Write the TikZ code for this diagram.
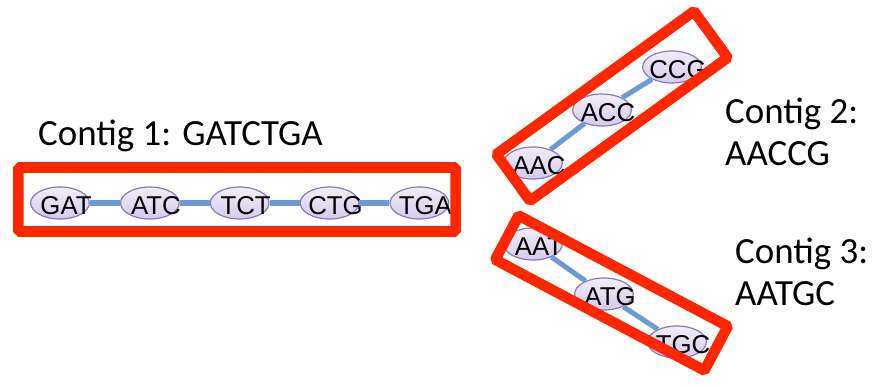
\documentclass[tikz,border=0pt]{standalone}
\usepackage{fontspec}
\usepackage{xcolor}
\usepackage{tikz}
\usetikzlibrary{shapes.geometric,positioning}
\newfontfamily\contigfont{Carlito}
\newfontfamily\kmerfont{Liberation Sans}
\definecolor{boxred}{RGB}{255,38,0}
\definecolor{edgeblue}{HTML}{6B9BD0}
\definecolor{kmerfill}{HTML}{D6CBEC}
\definecolor{kmerline}{HTML}{8A76BD}

\tikzset{
  kmer/.style={ellipse, draw=kmerline, line width=1pt, top color=kmerfill!35, bottom color=kmerfill,
    minimum width=1.76cm, minimum height=0.96cm, inner sep=0pt,
    label={[kmertext]center:#1}},
  kmertext/.style={font=\kmerfont\fontsize{22}{22}\selectfont, inner sep=0pt, xshift=0.18cm, yshift=-0.08cm},
  overlap/.style={draw=edgeblue, line width=4.3pt},
  contigbox/.style={draw=boxred, line width=9pt, rounded corners=1.5pt, inner sep=0pt},
  contiglabel/.style={font=\contigfont\fontsize{31.5}{35.8}\selectfont, align=left, inner sep=0pt}
}

\begin{document}
\begin{tikzpicture}[x=0.03cm, y=-0.03cm]
  \useasboundingbox (0,0) rectangle (883,389);

  % contig 1, a straight run of 3-mers
  \node[kmer=GAT] (gat) at (60,203) {};
  \node[kmer=ATC, right=0.9cm of gat] (atc) {};
  \node[kmer=TCT, right=0.9cm of atc] (tct) {};
  \node[kmer=CTG, right=0.9cm of tct] (ctg) {};
  \node[kmer=TGA, right=0.9cm of ctg] (tga) {};
  \draw[overlap] (gat) -- (atc);
  \draw[overlap] (atc) -- (tct);
  \draw[overlap] (tct) -- (ctg);
  \draw[overlap] (ctg) -- (tga);
  \node[contigbox, minimum width=13.12cm, minimum height=1.92cm] (box1) at (237,199.5) {};
  \node[contiglabel, anchor=base west] (lab1) at (38,145) {Contig 1: GATCTGA};

  % contig 2, upper branch
  \node[kmer=AAC] (aac) at (533,163) {};
  \node[kmer=ACC] (acc) at (602,110) {};
  \node[kmer=CCG] (ccg) at (672,67) {};
  \draw[overlap] (aac) -- (acc);
  \draw[overlap] (acc) -- (ccg);
  \node[contigbox, rotate=35.9, minimum width=7.32cm, minimum height=1.72cm] (box2) at (612,106) {};
  \node[contiglabel, anchor=base west] (lab2) at (725,165) {Contig 2:\\AACCG};

  % contig 3, lower branch
  \node[kmer=AAT] (aat) at (533,244) {};
  \node[kmer=ATG] (atg) at (604,294) {};
  \node[kmer=TGC] (tgc) at (677,342) {};
  \draw[overlap] (aat) -- (atg);
  \draw[overlap] (atg) -- (tgc);
  \node[contigbox, rotate=-27.9, minimum width=7.1cm, minimum height=1.5cm] (box3) at (611.5,293) {};
  \node[contiglabel, anchor=base west] (lab3) at (735,305) {Contig 3:\\AATGC};
\end{tikzpicture}
\end{document}
